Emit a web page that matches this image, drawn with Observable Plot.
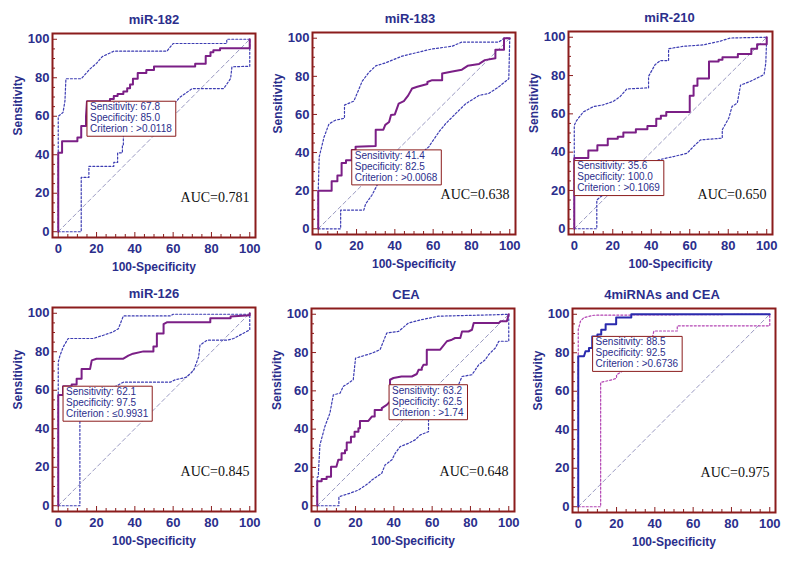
<!DOCTYPE html>
<html><head><meta charset="utf-8">
<script src="https://cdn.jsdelivr.net/npm/d3@7"></script>
<script src="https://cdn.jsdelivr.net/npm/@observablehq/plot@0.6"></script>
<style>
html,body{margin:0;padding:0;background:#fff;}
#chart{position:relative;width:800px;height:565px;overflow:hidden;background:#fff;}
.panel{position:absolute;}
</style></head><body><div id="chart"></div>
<script>
// ---------- data ----------
const titles = ["miR-182", "miR-183", "miR-210", "miR-126", "CEA", "4miRNAs and CEA"];
const aucLabels = ["AUC=0.781", "AUC=0.638", "AUC=0.650", "AUC=0.845", "AUC=0.648", "AUC=0.975"];
const sensitivity = [67.8, 41.4, 35.6, 62.1, 63.2, 88.5];
const specificity = [85.0, 82.5, 100.0, 97.5, 62.5, 92.5];
const criterion = [">0.0118", ">0.0068", ">0.1069", "\u22640.9931", ">1.74", ">0.6736"];
const majorTicks = [0, 20, 40, 60, 80, 100];
const minorTicks = [5, 10, 15, 25, 30, 35, 45, 50, 55, 65, 70, 75, 85, 90, 95];
const diagonal = [[0, 0], [100, 100]];

const rocMiR182 = [[0,0],[0,41],[2,41],[2,47],[10,47],[10,49],[12,49],[12,55],[14.5,55],[14.5,60],[15,67.8],[27,67.8],[27,69],[29,69],[29,70.5],[31,70.5],[31,71.5],[34,71.5],[34,72.8],[36,72.8],[36,74.5],[37.5,74.5],[37.5,76.5],[39,76.5],[39,79.5],[41.5,79.5],[41.5,82.5],[46,82.5],[46,84],[50,84],[50,85.8],[71.5,85.8],[71.5,87.3],[77,87.3],[77,91.3],[79.5,91.3],[79.5,93.3],[81,93.3],[81,94.3],[84.5,94.3],[84.5,95.3],[100,95.3],[100,100]];
const upperMiR182 = [[0,0],[0,60],[2.5,62],[3.5,68],[4,79.5],[12,79.5],[16.5,84.5],[20,87.5],[23,91],[29,93.8],[56.7,93.8],[60,97.8],[88,97.8],[88,100],[100,100]];
const lowerMiR182 = [[0,0],[12,0],[12,28.2],[16,28.2],[16,34],[29,34],[29,36],[31,36],[31,41],[33.5,41],[33.5,45],[34,45],[34,61],[40,62],[50,63.5],[59,65],[63.7,70],[70,74.4],[86.4,74.4],[90,79.6],[90.7,85.7],[100,86],[100,100]];

const rocMiR183 = [[0,0],[0,20],[7,20],[7,25],[10,25],[10,28],[12.2,28],[12.2,34.5],[14.5,34.5],[14.5,36],[17.5,36],[17.5,41.4],[19.5,41.4],[19.5,43],[30,43.5],[30,52],[34,52],[35,54.5],[37,56],[38,59.7],[40,60],[42,65.7],[44.7,67],[47,70],[49,73.6],[51.7,74.5],[57,76],[57,77],[59.5,78],[64.7,78],[64.7,81.5],[70,82.5],[75,83.5],[78,85.5],[84,86.5],[87,88.5],[92.5,89.5],[92.5,94],[97,94],[97,100],[100,100]];
const upperMiR183 = [[0,0],[0,20],[0.5,37.7],[3,48],[5.6,55],[9,57],[13.7,58],[13.7,64.9],[18.6,67],[23,77.5],[26.4,82],[30,85.5],[35,87],[43.8,90.6],[50.8,92.3],[59.5,94.4],[70,95.8],[75,98],[94.3,98],[97,100],[100,100]];
const lowerMiR183 = [[0,0],[11.7,0],[11.7,9.8],[23.8,9.8],[24.7,13],[28,17.6],[30.8,23],[36,28],[45,34],[52,38],[57.7,43],[63,50.8],[66.4,55],[71.7,60.4],[77,65.6],[84,70],[89,71],[94.3,74.5],[99.5,78.7],[100,100]];

const rocMiR210 = [[0,0],[0,37],[7.3,37],[7.3,40.8],[12,40.8],[12,43.6],[17.4,43.6],[17.4,47],[22.6,47],[22.6,48],[25.5,48],[25.5,50.3],[32,50.3],[32,52],[38,52],[38,53.6],[42.6,53.6],[42.6,57.5],[45,57.5],[45,59],[47.8,59],[47.8,61],[60,61],[60,69.5],[62,69.5],[62,74.7],[64,74.7],[64,78.4],[70,78.4],[70,87.4],[75,87.4],[75,88.3],[77,88.3],[77,89.5],[85,89.5],[85,91.2],[92,91.2],[92,94],[95,94],[95,96.3],[100,96.3],[100,100]];
const upperMiR210 = [[0,0],[0,54],[1.2,56.5],[4.7,61],[10,63.8],[15,64.7],[20.3,66.5],[23.8,69],[27.3,73],[38.6,73.6],[38.6,79.6],[42,85.7],[44.7,87.8],[49,87.8],[49,94],[57,95.3],[67,96],[76,98],[81,99.6],[100,100]];
const lowerMiR210 = [[0,0],[11.7,0],[11.7,15],[20,22],[30,28],[38,32],[43.8,36],[51.6,37.7],[58.6,39.4],[62,43],[65.6,46.4],[76.9,47.3],[76.9,51.7],[80.3,57.8],[82,63.9],[84.7,65.6],[86.4,75],[91.6,77],[98.6,80.5],[99.5,86.4],[100,100]];

const rocMiR126 = [[0,0],[0,57.5],[2.5,57.5],[2.5,62.1],[7,62.1],[7,63],[9.6,63],[9.6,66],[12.2,66],[12.2,71],[16.6,71],[17.5,75.5],[20,76.4],[34,76.4],[36.6,78],[39,79],[44.5,80.2],[49.7,80.2],[49.7,82.8],[51.5,82.8],[51.5,89.5],[55,89.5],[55,94.4],[56.7,95.3],[79.4,95.3],[79.4,97.4],[90,97.4],[90,98.3],[100,99],[100,100]];
const upperMiR126 = [[0,0],[0,74.6],[0.9,78],[2.6,82.5],[5.2,86.9],[18.3,86.9],[23.6,88.6],[28.8,90.4],[31.4,92],[34,98.6],[58.5,98.6],[60,99.5],[100,99.5],[100,100]];
const lowerMiR126 = [[0,0],[11.3,0],[11.3,60],[30,62],[34,64.2],[58.5,64.2],[61,65.4],[67,66.8],[70.7,70.3],[73.3,77.3],[74,83.4],[77.7,86],[88,86],[91.6,86.9],[100,91.4],[100,100]];

const rocCEA = [[0,0],[0,12.8],[2.3,12.8],[2.3,14],[4.9,14],[4.9,15.2],[7.2,15.2],[7.2,20.4],[10,20.4],[11,24],[12.7,24],[12.7,27.4],[14.5,27.4],[14.5,29],[15.4,29],[15.4,33],[17.6,33],[17.6,36],[19.5,36],[19.5,38.7],[21.5,38.7],[21.5,40.5],[22.3,40.5],[22.3,44.3],[26.7,44.3],[28.5,46.6],[30,46.6],[30,50],[33.7,50],[33.7,51],[36.3,52.7],[38,54.5],[38,65.8],[39.8,66.7],[44,67.5],[49.4,67.5],[52,68.8],[52.9,71],[54.6,71],[54.6,72],[55.5,73.6],[57.2,73.6],[57.2,81.5],[64.2,81.5],[67.7,85.9],[70.3,86.7],[72,87.6],[74.7,87.6],[75.6,91],[79,91],[80.8,91.9],[81.7,95.4],[94.8,95.4],[95.6,96.3],[99,96.3],[100,100]];
const upperCEA = [[0,0],[0,15],[0.5,15.2],[1.4,31.8],[4,41.4],[6.6,48.3],[8.4,57.9],[11.9,58.8],[13.6,62.3],[16.2,64],[18.8,65.8],[20,77.1],[23.2,78],[28.4,79.6],[32.8,81.5],[36.3,90.2],[42.4,91],[47.6,95.4],[54.6,97.2],[63.4,99],[95,99.8],[100,100]];
const lowerCEA = [[0,0],[11.3,0],[11.3,4.7],[17,6.5],[21.5,8.2],[26.7,11.7],[28.5,13.4],[33.7,17],[35.4,21.3],[39,24],[40.7,27.4],[43.3,30.9],[47.6,32.6],[51.1,34.4],[53.8,37],[58.1,38.7],[58.1,48.3],[63.4,51.8],[71.2,57],[75.6,67.5],[80.8,68.4],[84.3,73.6],[87.8,76.3],[89.5,78.9],[93,82.4],[94.8,85.9],[100,85.9],[100,100]];

const rocCombined = [[0,0],[0,78.2],[3,78.2],[3.8,80.8],[5.6,80.8],[5.6,82.5],[7.3,82.5],[7.3,88.5],[10,88.5],[10,89.5],[12,89.5],[12,92],[14.3,92],[14.3,94.8],[19.8,94.8],[19.8,98.3],[27.7,98.3],[27.7,100],[100,100]];
const upperCombined = [[0,0],[0,92],[1.2,96.5],[3,98.3],[8.2,99.5],[100,100]];
const lowerCombined = [[0,0],[11.7,0],[11.7,64.6],[17.8,66],[20,66.8],[20,68.5],[30,75],[38,85],[39.5,91.3],[51.7,91.3],[51.7,94],[100,94],[100,100]];

const rocCurves = [rocMiR182, rocMiR183, rocMiR210, rocMiR126, rocCEA, rocCombined];
const upperBands = [upperMiR182, upperMiR183, upperMiR210, upperMiR126, upperCEA, upperCombined];
const lowerBands = [lowerMiR182, lowerMiR183, lowerMiR210, lowerMiR126, lowerCEA, lowerCombined];

// ---------- layout & style ----------
const layout = [
  {left: 0,   top: 0,   fw: 203, fh: 204, tdx: 0},
  {left: 260, top: -1,  fw: 203, fh: 202, tdx: -4},
  {left: 516, top: -2,  fw: 204, fh: 203, tdx: -1},
  {left: 0,   top: 274, fw: 203, fh: 204, tdx: 0},
  {left: 259, top: 275, fw: 203, fh: 203, tdx: -7},
  {left: 520, top: 275, fw: 203, fh: 204, tdx: -12}
];
const navy = "#2b2e8c";
const maroon = "#8b1c1c";
const diagColor = "#9a9ac2";
const palettes = [
  {roc: "#7b1f86", ci: "#3d3db3"},
  {roc: "#2a2aad", ci: "#b344b3"}
];
const sans = "'Liberation Sans', Arial, Helvetica, sans-serif";
const serif = "'Liberation Serif', 'Times New Roman', serif";

const ctx = document.createElement("canvas").getContext("2d");
ctx.font = `10px ${sans}`;
function boxSymbol(w, h) {
  return {draw(c) { c.moveTo(0, 0); c.lineTo(w, 0); c.lineTo(w, h); c.lineTo(0, h); c.closePath(); }};
}
const px = d => d[0], py = d => d[1];

const root = document.getElementById("chart");
titles.forEach((title, i) => {
  const L = layout[i];
  const pal = i === 5 ? palettes[1] : palettes[0];
  const lines = [
    `Sensitivity: ${sensitivity[i].toFixed(1)}`,
    `Specificity: ${specificity[i].toFixed(1)}`,
    `Criterion : ${criterion[i]}`
  ];
  const boxW = Math.max(...lines.map(s => ctx.measureText(s).width)) + 7;
  const pt = [{x: 100 - specificity[i], y: sensitivity[i], label: lines.join("\n")}];
  const chart = Plot.plot({
    width: 265, height: 280,
    marginLeft: 52, marginTop: 33, marginRight: 265 - 52 - L.fw, marginBottom: 280 - 33 - L.fh,
    x: {domain: [-3, 103], axis: null},
    y: {domain: [-3, 103], axis: null},
    style: {fontFamily: sans, background: "transparent", overflow: "visible", color: navy},
    marks: [
      Plot.line(diagonal, {x: px, y: py, stroke: diagColor, strokeWidth: 1, strokeDasharray: "4,3"}),
      Plot.line(upperBands[i], {x: px, y: py, stroke: pal.ci, strokeWidth: 1.2, strokeDasharray: "2,2"}),
      Plot.line(lowerBands[i], {x: px, y: py, stroke: pal.ci, strokeWidth: 1.2, strokeDasharray: "2,2"}),
      Plot.line(rocCurves[i], {x: px, y: py, stroke: pal.roc, strokeWidth: 2}),
      Plot.dot(pt, {x: "x", y: "y", symbol: boxSymbol(boxW, 35), fill: "white", stroke: maroon, strokeWidth: 1}),
      Plot.text(pt, {x: "x", y: "y", text: "label", textAnchor: "start", lineAnchor: "top", dx: 3, dy: 1, fontSize: 10, lineHeight: 1.1, fill: navy}),
      Plot.text([aucLabels[i]], {text: d => d, frameAnchor: "bottom-right", textAnchor: "end", dx: -6, dy: -36, fontFamily: serif, fontSize: 14, fill: "#111"}),
      Plot.axisX(minorTicks, {tickSize: -3, tickFormat: () => "", stroke: maroon, label: null}),
      Plot.axisX(majorTicks, {tickSize: -5, tickPadding: 11, stroke: maroon, fill: navy, fontSize: 13, fontWeight: "bold", label: null}),
      Plot.axisY(minorTicks, {tickSize: -3, tickFormat: () => "", stroke: maroon, label: null}),
      Plot.axisY(majorTicks, {tickSize: -5, tickPadding: 8, stroke: maroon, fill: navy, fontSize: 13, fontWeight: "bold", label: null}),
      Plot.frame({stroke: maroon, strokeWidth: 2}),
      Plot.text([title], {text: d => d, frameAnchor: "top", dx: L.tdx, dy: -14, lineAnchor: "middle", fontSize: 13, fontWeight: "bold", fill: navy}),
      Plot.text(["100-Specificity"], {text: d => d, frameAnchor: "bottom", dy: 30, lineAnchor: "middle", fontSize: 12, fontWeight: "bold", fill: navy}),
      Plot.text(["Sensitivity"], {text: d => d, frameAnchor: "left", dx: -34, rotate: -90, lineAnchor: "middle", fontSize: 12, fontWeight: "bold", fill: navy})
    ]
  });
  const div = document.createElement("div");
  div.className = "panel";
  div.style.left = L.left + "px";
  div.style.top = L.top + "px";
  div.appendChild(chart);
  root.appendChild(div);
});
</script>
</body></html>
